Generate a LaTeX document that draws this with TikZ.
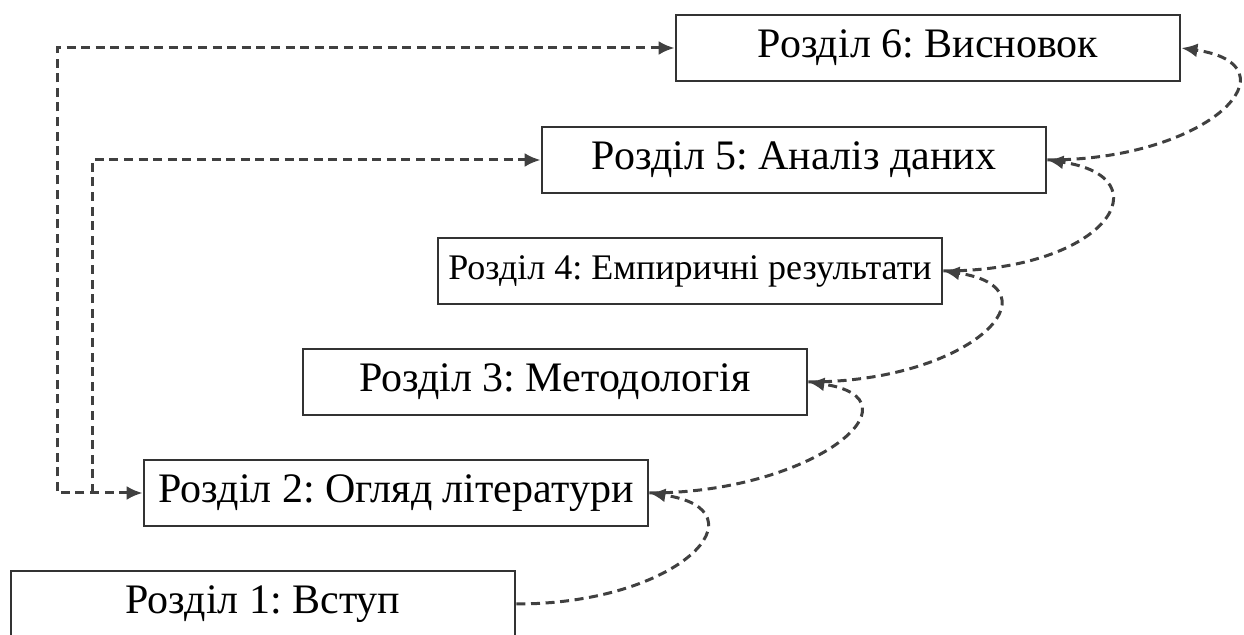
\documentclass[tikz,border=0pt]{standalone}
\usepackage{fontspec}
\setmainfont{Liberation Serif}
\newfontfamily\chapfont{Liberation Serif}
\usetikzlibrary{arrows.meta}
\frenchspacing
\begin{document}
\begin{tikzpicture}[x=0.5pt,y=-0.5pt,
  chapter/.style={rectangle, draw=black!80, line width=1.4pt, fill=white,
    minimum width=252pt, minimum height=33pt, inner sep=0pt,
    font=\chapfont\fontsize{21pt}{24pt}\selectfont},
  smallchapter/.style={chapter, font=\chapfont\fontsize{18pt}{21pt}\selectfont},
  tip/.tip={Latex[length=8pt,width=7pt]},
  link/.style={draw=black!75, line width=1.5pt, dash pattern=on 4.5pt off 2.8pt, -tip},
  twoway/.style={link, tip-tip},
]
\useasboundingbox (0,0) rectangle (1244,635);

% chapter boxes, stepping down to the left
\node[chapter]      (b6) at (928,48)  {Розділ 6: Висновок};
\node[chapter]      (b5) at (794,160) {Розділ 5: Аналіз даних};
\node[smallchapter] (b4) at (690,271) {Розділ 4: Емпиричні результати};
\node[chapter]      (b3) at (555,382) {Розділ 3: Методологія};
\node[chapter]      (b2) at (396,493) {Розділ 2: Огляд літератури};
\node[chapter]      (b1) at (263,604) {Розділ 1: Вступ};

% links on the left from the literature review
\coordinate (outer) at (57,493);
\coordinate (inner) at (92,493);
\draw[twoway] (b2.west) -- (outer) |- (b6.west);
\draw[link] (inner) |- (b5.west);

% curved links between consecutive chapters
\foreach \a/\b in {b1/b2,b2/b3,b3/b4,b4/b5,b5/b6}
  \draw[link] (\a.east) .. controls +(164,0) and +(118,17) .. (\b.east);
\end{tikzpicture}
\end{document}
